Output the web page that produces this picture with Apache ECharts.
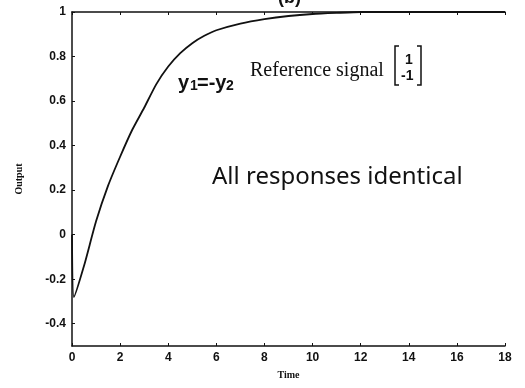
<!DOCTYPE html>
<html>
<head>
<meta charset="utf-8">
<script src="https://cdn.jsdelivr.net/npm/echarts@6/dist/echarts.min.js"></script>
<style>
    html, body { margin: 0; padding: 0; background: #fff; }
    .main { width: 525px; height: 388px; }
</style>
</head>
<body>
<div class="main"></div>
<script>
// data
var times = [0, 0.08, 0.5, 1, 1.5, 2, 2.5, 3, 3.5, 4, 4.5, 5, 5.5, 6, 7, 8, 9, 10, 11, 12, 14, 16, 18];
var outputs = [0, -0.28, -0.14, 0.06, 0.22, 0.35, 0.47, 0.57, 0.675, 0.755, 0.815, 0.86, 0.893, 0.918, 0.948, 0.968, 0.982, 0.991, 0.996, 1, 1, 1, 1];
var yTicks = [-0.4, -0.2, 0, 0.2, 0.4, 0.6, 0.8, 1];

(function() {
    var myChart = echarts.init(document.querySelector('.main'));
    var points = times.map(function(t, i) { return [t, outputs[i]]; });
    var labelFont = { color: '#111', fontFamily: 'Liberation Sans', fontWeight: 'bold', fontSize: 12 };
    var ink = '#111';

    var option = {
        animation: false,
        backgroundColor: '#fff',
        grid: { left: 72, right: 20, top: 12, bottom: 42 },
        xAxis: [{
            type: 'value',
            min: 0,
            max: 18,
            interval: 2,
            name: 'Time',
            nameLocation: 'middle',
            nameGap: 24,
            nameTextStyle: { color: ink, fontFamily: 'Liberation Serif', fontWeight: 'bold', fontSize: 10 },
            axisLine: { onZero: false, lineStyle: { color: ink, width: 1.5 } },
            axisTick: { inside: true, length: 3, lineStyle: { color: ink } },
            axisLabel: Object.assign({ margin: 6 }, labelFont),
            splitLine: { show: false }
        }, {
            // top frame line with ticks
            type: 'value',
            position: 'top',
            min: 0,
            max: 18,
            interval: 2,
            axisLine: { show: true, onZero: false, lineStyle: { color: ink, width: 1.5 } },
            axisTick: { inside: true, length: 3, lineStyle: { color: ink } },
            axisLabel: { show: false },
            splitLine: { show: false }
        }],
        yAxis: {
            type: 'value',
            min: -0.5,
            max: 1,
            name: 'Output',
            nameLocation: 'middle',
            nameGap: 48,
            nameTextStyle: { color: ink, fontFamily: 'Liberation Serif', fontWeight: 'bold', fontSize: 10 },
            axisLine: { show: true, lineStyle: { color: ink, width: 1.5 } },
            axisTick: { show: true, inside: true, length: 3, customValues: yTicks, lineStyle: { color: ink } },
            axisLabel: Object.assign({
                margin: 6,
                customValues: yTicks,
                formatter: function(v) { return String(Math.round(v * 10) / 10); }
            }, labelFont),
            splitLine: { show: false }
        },
        series: [{
            type: 'line',
            data: points,
            showSymbol: false,
            smooth: 0.2,
            lineStyle: { color: ink, width: 1.8 }
        }],
        graphic: [
            // (b) title, mostly cut off at the top
            { type: 'text', left: 278, top: -11, style: { text: '(b)', font: 'bold 18px "Liberation Sans"', fill: ink } },
            // y1 = -y2
            { type: 'text', left: 178, top: 73, style: { text: 'y', font: 'bold 20px "Liberation Sans"', fill: ink } },
            { type: 'text', left: 190, top: 79, style: { text: '1', font: 'bold 14px "Liberation Sans"', fill: ink } },
            { type: 'text', left: 197, top: 73, style: { text: '=-y', font: 'bold 20px "Liberation Sans"', fill: ink } },
            { type: 'text', left: 226, top: 79, style: { text: '2', font: 'bold 14px "Liberation Sans"', fill: ink } },
            { type: 'text', left: 250, top: 61, style: { text: 'Reference signal', font: '20px "Liberation Serif"', fill: ink } },
            // [1; -1] vector
            { type: 'text', left: 405, top: 53, style: { text: '1', font: 'bold 14px "Liberation Sans"', fill: ink } },
            { type: 'text', left: 401, top: 69, style: { text: '-1', font: 'bold 14px "Liberation Sans"', fill: ink } },
            { type: 'polyline', shape: { points: [[399, 46], [395, 46], [395, 85], [399, 85]] }, style: { stroke: ink, lineWidth: 1.5, fill: null } },
            { type: 'polyline', shape: { points: [[417, 46], [421, 46], [421, 85], [417, 85]] }, style: { stroke: ink, lineWidth: 1.5, fill: null } },
            // handwritten note
            { type: 'text', left: 212, top: 165, style: { text: 'All responses identical', font: '24px "Noto Sans"', fill: ink } }
        ]
    };
    myChart.setOption(option);
})();
</script>
</body>
</html>
